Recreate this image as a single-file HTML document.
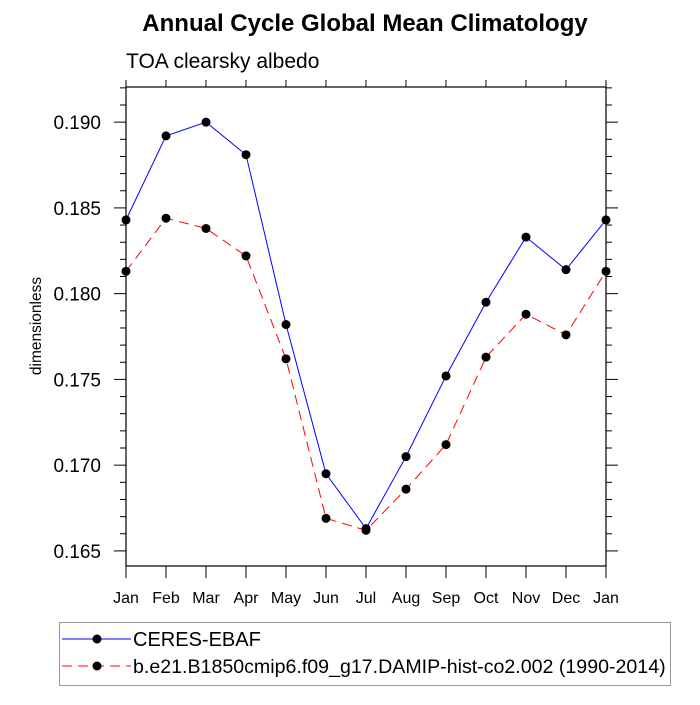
<!DOCTYPE html>
<html><head><meta charset="utf-8"><style>
body{margin:0;background:#fff;}
svg text{font-family:"Liberation Sans",sans-serif;}
</style></head><body>
<svg id="chart" width="700" height="700" xmlns="http://www.w3.org/2000/svg">
<text x="365" y="31" font-size="24" font-weight="bold" text-anchor="middle">Annual Cycle Global Mean Climatology</text>
<text x="126" y="68" font-size="21">TOA clearsky albedo</text>
<text transform="translate(41,326) rotate(-90)" font-size="15.5" text-anchor="middle">dimensionless</text>
<g id="axes"></g>
<g id="series"></g>
<g>
<rect x="59.5" y="622.5" width="611" height="63" fill="none" stroke="#999" stroke-width="1"/>
<line x1="62" y1="639" x2="131" y2="639" stroke="#00f" stroke-width="1"/>
<circle cx="97" cy="639" r="4.5" fill="#000"/>
<text x="133" y="646" font-size="20">CERES-EBAF</text>
<line x1="62" y1="666" x2="131" y2="666" stroke="#f00" stroke-width="1" stroke-dasharray="10,6"/>
<circle cx="97" cy="666" r="4.5" fill="#000"/>
<text x="133" y="673" font-size="19.6">b.e21.B1850cmip6.f09_g17.DAMIP-hist-co2.002 (1990-2014)</text>
</g>
</svg>
<script>
const months=["Jan","Feb","Mar","Apr","May","Jun","Jul","Aug","Sep","Oct","Nov","Dec","Jan"];
const ceres=[0.1843,0.1892,0.1900,0.1881,0.1782,0.1695,0.1663,0.1705,0.1752,0.1795,0.1833,0.1814,0.1843];
const model=[0.1813,0.1844,0.1838,0.1822,0.1762,0.1669,0.1662,0.1686,0.1712,0.1763,0.1788,0.1776,0.1813];
const yTicks=[0.165,0.170,0.175,0.180,0.185,0.190];
const L=126,R=606,T=87,B=566;
const yMin=0.16412,yMax=0.19205;
const NS="http://www.w3.org/2000/svg";
const xs=i=>L+(R-L)*i/(months.length-1);
const ys=v=>B-(v-yMin)/(yMax-yMin)*(B-T);
function mk(tag,attrs,parent){const e=document.createElementNS(NS,tag);for(const k in attrs)e.setAttribute(k,attrs[k]);parent.appendChild(e);return e;}
const ax=document.getElementById('axes');
const frame=mk('rect',{x:L,y:T,width:R-L,height:B-T,fill:'none',stroke:'#000','stroke-width':1.2},ax);


months.forEach((m,i)=>{
  const x=xs(i);
  mk('line',{x1:x,y1:B,x2:x,y2:B+12,stroke:'#000'},ax);
  mk('line',{x1:x,y1:T,x2:x,y2:T-7,stroke:'#000'},ax);
  const t=mk('text',{x:x,y:B+37,'font-size':16,'text-anchor':'middle'},ax);
  t.textContent=m;
  
  
});
for(let k=0;k*0.001+0.164<=0.1921;k++){
  const v=0.164+k*0.001;if(v<yMin)continue;
  const major=yTicks.some(t=>Math.abs(t-v)<1e-6);
  const y=ys(v),len=major?12:6;
  mk('line',{x1:L-len,y1:y,x2:L,y2:y,stroke:'#000'},ax);
  mk('line',{x1:R,y1:y,x2:R+len,y2:y,stroke:'#000'},ax);
}
yTicks.forEach(v=>{
  const t=mk('text',{x:L-25,y:ys(v)+7,'font-size':19,'text-anchor':'end'},ax);
  t.textContent=v.toFixed(3);
  
  
});
const sg=document.getElementById('series');
function drawSeries(vals,color,dash,name){
  const pts=vals.map((v,i)=>xs(i)+','+ys(v)).join(' ');
  const pl=mk('polyline',{points:pts,fill:'none',stroke:color,'stroke-width':1,'stroke-dasharray':dash},sg);
  
  
  vals.forEach((v,i)=>{
    const c=mk('circle',{cx:xs(i),cy:ys(v),r:4.5,fill:'#000'},sg);
    
    
  });
}
drawSeries(model,'#f00','10,6','model');
drawSeries(ceres,'#00f','none','ceres');
</script>
</body></html>
